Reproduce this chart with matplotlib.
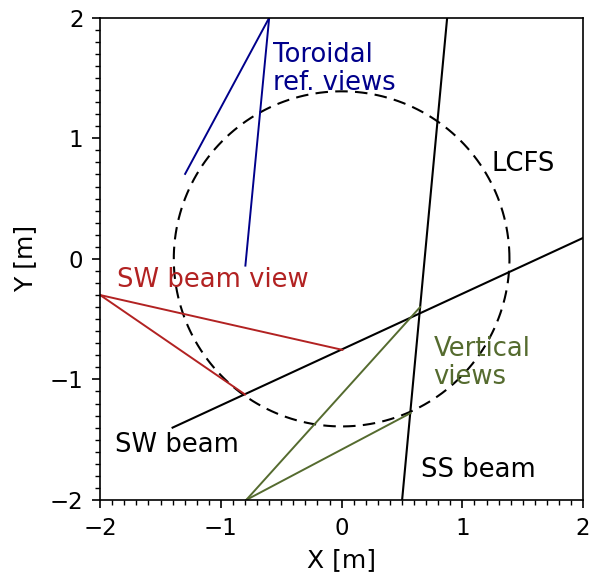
import matplotlib
matplotlib.use("Agg")
import matplotlib.pyplot as plt
import numpy as np
from matplotlib.ticker import MultipleLocator

# LCFS (approximated as a circle)
lcfs_radius = 1.39

# beams: (x0, y0) -> (x1, y1)
sw_beam_x = [-1.40, 2.0]
sw_beam_y = [-1.40, 0.174]
ss_beam_x = [0.501, 0.874]
ss_beam_y = [-2.0, 2.0]

# view chords, each from a common apex
sw_view_x = [[-2.0, 0.007], [-2.0, -0.80]]
sw_view_y = [[-0.30, -0.755], [-0.30, -1.125]]
vert_view_x = [[-0.79, 0.65], [-0.79, 0.57]]
vert_view_y = [[-2.0, -0.40], [-2.0, -1.28]]
tor_view_x = [[-0.60, -1.296], [-0.60, -0.797]]
tor_view_y = [[2.0, 0.705], [2.0, -0.056]]

fig = plt.figure(figsize=(5.89, 5.74), dpi=100)
ax = fig.add_axes([0.170, 0.129, 0.820, 0.840])

theta = np.linspace(0, 2 * np.pi, 400)
ax.plot(lcfs_radius * np.cos(theta), lcfs_radius * np.sin(theta),
        color="k", linestyle=(0, (6, 3.5)), linewidth=1.5)

ax.plot(sw_beam_x, sw_beam_y, color="k", linewidth=1.5)
ax.plot(ss_beam_x, ss_beam_y, color="k", linewidth=1.5)

for xs, ys in zip(sw_view_x, sw_view_y):
    ax.plot(xs, ys, color="#B22222", linewidth=1.4)
for xs, ys in zip(vert_view_x, vert_view_y):
    ax.plot(xs, ys, color="#556B2F", linewidth=1.4)
for xs, ys in zip(tor_view_x, tor_view_y):
    ax.plot(xs, ys, color="#00008B", linewidth=1.4)

fs = 18.6
ax.text(-0.57, 1.397, "Toroidal\nref. views", color="#00008B", fontsize=fs,
        va="baseline", linespacing=1.12)
ax.text(1.244, 0.733, "LCFS", color="k", fontsize=fs, va="baseline")
ax.text(-1.857, -0.23, "SW beam view", color="#B22222", fontsize=fs, va="baseline")
ax.text(0.76, -1.04, "Vertical\nviews", color="#556B2F", fontsize=fs,
        va="baseline", linespacing=1.12)
ax.text(-1.876, -1.604, "SW beam", color="k", fontsize=fs, va="baseline")
ax.text(0.658, -1.81, "SS beam", color="k", fontsize=fs, va="baseline")

ax.set_xlim(-2, 2)
ax.set_ylim(-2, 2)
ax.xaxis.set_major_locator(MultipleLocator(1))
ax.yaxis.set_major_locator(MultipleLocator(1))
ax.xaxis.set_minor_locator(MultipleLocator(0.1))
ax.yaxis.set_minor_locator(MultipleLocator(0.1))
ax.tick_params(which="major", labelsize=16.5, length=6, width=1.2, pad=6)
ax.tick_params(which="minor", length=3.5, width=1.0)
ax.set_xlabel("X [m]", fontsize=18, labelpad=6)
ax.set_ylabel("Y [m]", fontsize=18, labelpad=9)
for sp in ax.spines.values():
    sp.set_linewidth(1.2)

fig.savefig("out.png", dpi=100)
